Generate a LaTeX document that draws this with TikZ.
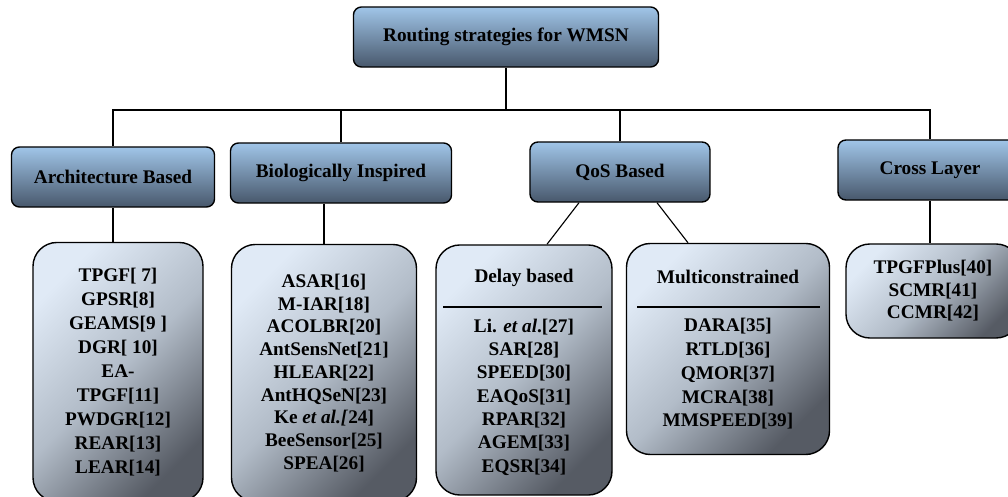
\documentclass[tikz,border=0pt]{standalone}
\usepackage{fontspec}
\setmainfont{Liberation Serif}
\definecolor{cattop}{RGB}{160,197,232}
\definecolor{catbot}{RGB}{72,88,108}
\definecolor{listtop}{RGB}{224,234,246}
\definecolor{listmid}{RGB}{178,188,200}
\definecolor{listbot}{RGB}{86,91,100}
\begin{document}
\begin{tikzpicture}[x=0.025cm, y=-0.025cm,
  headbox/.style={draw, line width=1pt, rounded corners=0.2cm, top color=cattop, bottom color=catbot,
    minimum height=1.5cm, font=\fontsize{13.7}{16}\selectfont\bfseries},
  listbox/.style={draw, line width=1pt, rounded corners=0.6cm, top color=listtop, bottom color=listbot,
    middle color=listmid, shading angle=45, align=center, font=\fontsize{13.7}{#1}\selectfont\bfseries},
  listbox/.default=17,
  itemtext/.style={inner sep=0pt, align=center, font=\fontsize{13.7}{#1}\selectfont\bfseries},
  itemtext/.default=17,
  link/.style={line width=0.8pt}]
\useasboundingbox (0,0) rectangle (1008,497);

\node[headbox, minimum width=7.625cm] (root) at (506,37) {Routing strategies for WMSN};
\node[headbox, minimum width=5.075cm] (arch) at (113,177) {Architecture Based};
\node[headbox, minimum width=5.525cm] (bio) at (341,173) {Biologically Inspired};
\node[headbox, minimum width=4.5cm] (qos) at (620,172) {QoS Based};
\node[headbox, minimum width=4.6cm] (cross) at (930,170) {Cross Layer};

\coordinate (bus) at (506,110);
\draw[link] (root.south) -- (bus);
\foreach \n in {arch,bio,qos,cross}
{
  \draw[link] (\n.north) |- (bus);
}

\node[listbox=17, minimum width=4.25cm, minimum height=6.475cm] (archlist) at (118,372)
  {TPGF[ 7]\\GPSR[8]\\GEAMS[9 ]\\DGR[ 10]\\EA-\\TPGF[11]\\PWDGR[12]\\REAR[13]\\LEAR[14]};
\node[listbox=16.2, minimum width=4.625cm, minimum height=6.425cm] (biolist) at (324,373)
  {ASAR[16]\\M-IAR[18]\\ACOLBR[20]\\AntSensNet[21]\\HLEAR[22]\\AntHQSeN[23]\\Ke \textit{et al.[}24]\\BeeSensor[25]\\SPEA[26]};

\node[listbox, minimum width=4.4cm, minimum height=6.25cm] (delay) at (524,370) {};
\node[itemtext] (delayhead) at (524,278) {Delay based};
\draw[link] (443,307) -- (602,307);
\node[itemtext=16.6] (delayitems) at (524,397)
  {Li. \textit{et al}.[27]\\SAR[28]\\SPEED[30]\\EAQoS[31]\\RPAR[32]\\AGEM[33]\\EQSR[34]};

\node[listbox, minimum width=5.075cm, minimum height=5.275cm] (multi) at (728,349) {};
\node[itemtext] (multihead) at (728,277) {Multiconstrained};
\draw[link] (637,307) -- (820,307);
\node[itemtext=16.9] (multiitems) at (728,374)
  {DARA[35]\\RTLD[36]\\QMOR[37]\\MCRA[38]\\MMSPEED[39]};

\node[listbox=16, minimum width=4.35cm, minimum height=2.35cm] (crosslist) at (933,291)
  {TPGFPlus[40]\\SCMR[41]\\CCMR[42]};

\draw[link] (arch.south) -- (arch.south |- archlist.north);
\draw[link] (bio.south -| biolist.north) -- (biolist.north);
\draw[link] ([xshift=-1.025cm]qos.south) -- ([xshift=0.575cm]delay.north);
\draw[link] ([xshift=0.925cm]qos.south) -- ([xshift=-1.0cm]multi.north);
\draw[link] (cross.south) -- (cross.south |- crosslist.north);
\end{tikzpicture}
\end{document}
